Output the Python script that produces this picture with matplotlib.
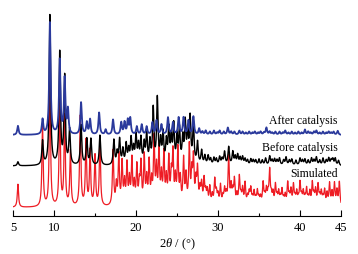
import numpy as np
import matplotlib
matplotlib.use("Agg")
import matplotlib.pyplot as plt

plt.rcParams["font.family"] = ["Liberation Serif", "DejaVu Serif"]
plt.rcParams["mathtext.fontset"] = "custom"
plt.rcParams["mathtext.rm"] = "Liberation Serif"
plt.rcParams["mathtext.it"] = "Liberation Serif:italic"

# peak positions (2theta, deg) and heights (arb. units)
sim_pos = [5.6, 8.6, 9.5, 10.7, 11.3, 12.0, 13.2, 13.9, 14.4, 15.0, 15.6,
           17.2, 17.6, 17.9, 18.3, 18.6, 18.9, 19.2, 19.5, 19.8, 20.1, 20.4,
           20.6, 21.0, 21.3, 21.6, 21.9, 22.2, 22.5, 22.8, 23.1, 23.4, 23.7,
           24.0, 24.3, 24.5, 24.8, 25.1, 25.4, 25.8, 26.1, 26.5, 26.8, 27.0,
           27.3, 27.5, 27.8, 28.0, 28.3, 28.5, 28.7, 29.0, 29.3, 29.6, 29.8,
           30.0, 30.3, 30.6, 30.8, 31.0, 31.3, 31.6, 31.8, 32.0, 32.3, 32.6,
           32.8, 33.0, 33.3, 33.6, 33.8, 34.0, 34.2, 34.4, 34.6, 34.8, 35.0,
           35.2, 35.5, 35.7, 35.9, 36.1, 36.3, 36.5, 36.7, 37.0, 37.2, 37.4,
           37.6, 37.8, 38.0, 38.2, 38.5, 38.7, 38.9, 39.2, 39.4, 39.6, 39.8,
           40.0, 40.2, 40.4, 40.6, 40.8, 41.0, 41.2, 41.5, 41.7, 41.9, 42.2,
           42.4, 42.6, 42.8, 43.0, 43.3, 43.6, 43.9, 44.2, 44.5, 44.8]
sim_int = [23, 80, 130, 105, 90, 55, 90, 65, 55, 50, 65,
           55, 20, 50, 42, 22, 40, 25, 45, 20, 38, 20,
           40, 48, 25, 42, 22, 65, 35, 55, 28, 50, 25,
           45, 28, 50, 25, 55, 25, 45, 28, 58, 30, 45,
           22, 35, 15, 20, 25, 12, 14, 18, 10, 25, 12,
           10, 20, 8, 15, 10, 48, 18, 12, 25, 10, 28,
           8, 16, 22, 8, 12, 16, 6, 13, 6, 14, 7,
           8, 22, 8, 15, 10, 34, 9, 12, 20, 8, 13,
           7, 15, 6, 10, 22, 8, 15, 20, 7, 13, 6,
           22, 8, 13, 7, 16, 6, 13, 22, 9, 15, 20,
           8, 13, 7, 15, 12, 22, 13, 22, 15, 24]

bef_pos = [5.6, 8.6, 9.5, 10.7, 11.3, 11.9, 13.3, 14.0, 14.5, 15.6, 17.3,
           17.7, 18.0, 18.4, 18.8, 19.1, 19.4, 19.7, 20.0, 20.3, 20.6, 21.0,
           21.3, 21.7, 22.1, 22.6, 23.0, 23.3, 23.7, 24.0, 24.3, 24.6, 25.0,
           25.3, 25.7, 26.0, 26.3, 26.6, 27.0, 27.5, 28.0, 28.4, 28.8, 29.1,
           29.5, 29.8, 30.2, 30.5, 30.8, 31.3, 31.8, 32.1, 32.4, 32.7, 33.0,
           33.3, 33.6, 34.0, 34.3, 34.6, 35.0, 35.4, 35.8, 36.3, 36.6, 36.9,
           37.2, 37.5, 38.0, 38.3, 38.7, 39.0, 39.5, 40.0, 40.3, 40.6, 41.0,
           41.4, 41.7, 42.0, 42.4, 42.8, 43.2, 43.5, 43.8, 44.0, 44.3, 44.7]
bef_int = [4, 24, 150, 112, 88, 35, 40, 26, 26, 30, 25,
           12, 25, 15, 20, 14, 25, 15, 28, 18, 25, 20,
           30, 22, 55, 65, 22, 30, 22, 34, 25, 38, 26,
           34, 25, 40, 30, 45, 40, 22, 14, 9, 9, 6,
           7, 6, 8, 6, 13, 18, 13, 8, 10, 7, 8,
           6, 5, 6, 5, 5, 6, 5, 7, 9, 5, 6,
           5, 7, 5, 8, 5, 6, 5, 7, 5, 6, 5,
           7, 5, 8, 5, 7, 5, 7, 5, 6, 7, 5]

aft_pos = [5.6, 8.6, 9.5, 10.7, 11.3, 11.7, 13.3, 14.0, 14.4, 15.5, 16.3,
           17.2, 18.2, 18.6, 19.0, 19.3, 20.1, 20.7, 21.3, 22.0, 22.5, 23.1,
           23.9, 24.5, 25.2, 25.8, 26.4, 27.0, 27.7, 28.1, 28.5, 29.0, 29.5,
           29.9, 30.2, 30.7, 31.2, 31.6, 32.0, 32.6, 33.0, 33.4, 33.8, 34.2,
           34.5, 34.9, 35.2, 35.6, 35.9, 36.3, 36.6, 37.0, 37.5, 37.9, 38.2,
           38.6, 39.0, 39.4, 39.8, 40.2, 40.6, 41.0, 41.3, 41.7, 42.0, 42.4,
           42.8, 43.2, 43.5, 43.8, 44.1, 44.6]
aft_int = [9, 15, 112, 74, 55, 24, 32, 12, 15, 22, 5,
           15, 12, 12, 14, 16, 8, 10, 8, 12, 14, 10,
           17, 12, 17, 17, 14, 18, 6, 3, 4, 3, 4,
           2, 4, 3, 7, 3, 3, 4, 3, 2, 3, 2,
           3, 2, 3, 2, 7, 3, 2, 3, 3, 2, 4,
           2, 3, 2, 3, 2, 5, 3, 2, 3, 4, 2,
           3, 2, 3, 2, 3, 4]

names = ["Simulated", "Before catalysis", "After catalysis"]
offsets = [8.5, 50, 81]
colors = ["#ee1c24", "#000000", "#2b3a9c"]
widths = [0.09, 0.1, 0.1]
lws = [0.9, 1.0, 1.3]


def profile(x, pos, inten, w):
    y = np.zeros_like(x)
    for p, h in zip(pos, inten):
        y += h * w ** 2 / ((x - p) ** 2 + w ** 2)
    return y


x = np.linspace(5, 45, 4001)
series = [(sim_pos, sim_int), (bef_pos, bef_int), (aft_pos, aft_int)]

fig = plt.figure(figsize=(3.58, 2.54), dpi=100)
ax = fig.add_axes([13 / 358, 38 / 254, 328 / 358, 211 / 254])

for (pos, inten), off, c, w, lw in zip(series, offsets, colors, widths, lws):
    ax.plot(x, profile(x, pos, inten, w) + off, color=c, lw=lw)

label_y = [174, 148, 121]
for name, ly in zip(names, label_y):
    ax.text(44.6, 216 - ly, name, ha="right", va="center", fontsize=8.5)

ax.set_xlim(5, 45)
ax.set_ylim(0, 211)
ax.set_xticks([5, 10, 20, 30, 40, 45])
ax.set_xticks([15, 25, 35], minor=True)
ax.tick_params(axis="x", direction="in", length=4, width=0.8, labelsize=9, pad=4)
ax.tick_params(axis="x", which="minor", direction="in", length=2, width=0.8)
ax.set_yticks([])
for s in ["left", "top", "right"]:
    ax.spines[s].set_visible(False)
ax.spines["bottom"].set_linewidth(0.8)
ax.set_xlabel(r"$\mathit{2\theta}$ / (°)", fontsize=9, labelpad=2)

fig.savefig("out.png", dpi=100)
